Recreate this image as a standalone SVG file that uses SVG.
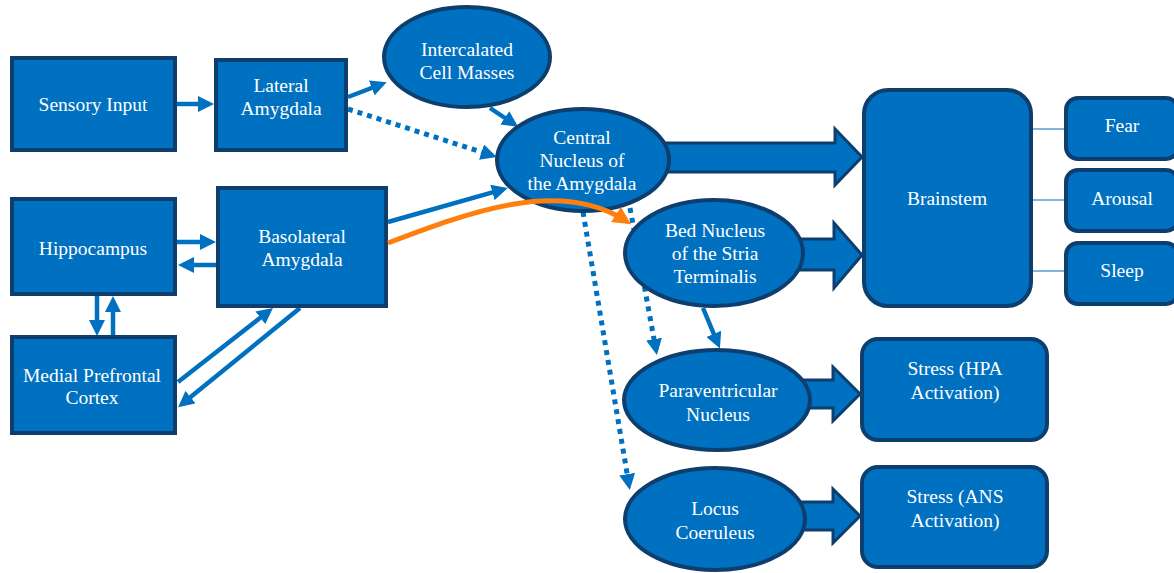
<svg xmlns="http://www.w3.org/2000/svg" width="1174" height="573" viewBox="0 0 1174 573">
<style>
.n{fill:#0070C0;stroke:#0E3E6E;stroke-width:4}
.t{font-family:"Liberation Serif","Times New Roman",serif;font-size:19.5px;fill:#fff;text-anchor:middle}
.a{fill:none;stroke:#0070C0;stroke-width:4.5;marker-end:url(#ah)}
.d{fill:none;stroke:#0070C0;stroke-width:5;stroke-dasharray:5 5;marker-end:url(#ah)}
.b{fill:#0070C0;stroke:#0E3E6E;stroke-width:3;stroke-linejoin:miter}
.l{stroke:#5B9BD5;stroke-width:1.5}
</style>
<defs>
<marker id="ah" markerUnits="userSpaceOnUse" markerWidth="16" markerHeight="16" viewBox="0 0 16 16" refX="11" refY="8" orient="auto">
<path d="M0,0 L16,8 L0,16 z" fill="#0070C0"/>
</marker>
<marker id="ao" markerUnits="userSpaceOnUse" markerWidth="18" markerHeight="18" viewBox="0 0 18 18" refX="12" refY="9" orient="auto">
<path d="M0,0 L18,9 L0,18 z" fill="#FF7F0E"/>
</marker>
</defs>
<rect width="1174" height="573" fill="#fff"/>
<g id="connectors">
<path class="b" d="M640,143 L835,143 L835,129 L862,157 L835,185 L835,172 L640,172 Z"/>
<path class="b" d="M780,239 L834,239 L834,223 L862,255 L834,288 L834,270 L780,270 Z"/>
<path class="b" d="M790,380 L833,380 L833,367 L860,394 L833,421 L833,408 L790,408 Z"/>
<path class="b" d="M780,502 L833,502 L833,489 L860,516 L833,543 L833,530 L780,530 Z"/>
<line class="a" x1="177" y1="104" x2="209" y2="104"/>
<line class="a" x1="177" y1="242" x2="211" y2="242"/>
<line class="a" x1="216" y1="265" x2="183" y2="265"/>
<line class="a" x1="97" y1="296" x2="97" y2="331"/>
<line class="a" x1="113" y1="336" x2="113" y2="301"/>
<line class="a" x1="178" y1="382" x2="269" y2="311"/>
<line class="a" x1="300" y1="308" x2="182" y2="404"/>
<line class="a" x1="348" y1="97" x2="382" y2="84"/>
<line class="d" x1="348" y1="109" x2="492" y2="155.5"/>
<line class="a" x1="490" y1="108" x2="514" y2="124"/>
<line class="a" x1="388" y1="222" x2="503" y2="189.4"/>
<line class="d" x1="630" y1="208" x2="656" y2="350"/>
<line class="d" x1="583" y1="212" x2="629" y2="485"/>
<line class="a" x1="703" y1="308" x2="718" y2="344"/>
<line class="l" x1="1033" y1="129" x2="1064" y2="129"/>
<line class="l" x1="1033" y1="200" x2="1064" y2="200"/>
<line class="l" x1="1033" y1="271" x2="1064" y2="271"/>
</g>
<g id="sensory-input"><rect class="n" x="12" y="58" width="163" height="92"/><text class="t" x="93" y="111">Sensory Input</text></g>
<g id="lateral-amygdala"><rect class="n" x="216" y="60" width="130" height="90"/><text class="t" x="281" y="92">Lateral</text><text class="t" x="281" y="115">Amygdala</text></g>
<g id="hippocampus"><rect class="n" x="12" y="199" width="163" height="95"/><text class="t" x="93" y="255">Hippocampus</text></g>
<g id="basolateral-amygdala"><rect class="n" x="218" y="188" width="168" height="118"/><text class="t" x="302" y="243">Basolateral</text><text class="t" x="302" y="266">Amygdala</text></g>
<g id="medial-prefrontal-cortex"><rect class="n" x="12" y="337" width="163" height="96"/><text class="t" x="92" y="382">Medial Prefrontal</text><text class="t" x="92" y="404">Cortex</text></g>
<g id="intercalated-cell-masses"><ellipse class="n" cx="467" cy="57" rx="83" ry="50"/><text class="t" x="467" y="56">Intercalated</text><text class="t" x="467" y="79">Cell Masses</text></g>
<g id="central-nucleus"><ellipse class="n" cx="583" cy="160" rx="86" ry="51"/><text class="t" x="582" y="144">Central</text><text class="t" x="582" y="167">Nucleus of</text><text class="t" x="582" y="190">the Amygdala</text></g>
<g id="bnst"><ellipse class="n" cx="714" cy="253" rx="89" ry="53"/><text class="t" x="715" y="237">Bed Nucleus</text><text class="t" x="715" y="260">of the Stria</text><text class="t" x="715" y="283">Terminalis</text></g>
<g id="paraventricular-nucleus"><ellipse class="n" cx="717" cy="400" rx="93" ry="50"/><text class="t" x="718" y="397">Paraventricular</text><text class="t" x="718" y="421">Nucleus</text></g>
<g id="locus-coeruleus"><ellipse class="n" cx="715" cy="519" rx="90" ry="51"/><text class="t" x="715" y="515">Locus</text><text class="t" x="715" y="539">Coeruleus</text></g>
<g id="brainstem"><rect class="n" x="864" y="90" width="167" height="216" rx="24"/><text class="t" x="947" y="205">Brainstem</text></g>
<g id="fear"><rect class="n" x="1066" y="98" width="112" height="61" rx="12"/><text class="t" x="1122" y="132">Fear</text></g>
<g id="arousal"><rect class="n" x="1066" y="170" width="112" height="61" rx="12"/><text class="t" x="1122" y="205">Arousal</text></g>
<g id="sleep"><rect class="n" x="1066" y="243" width="112" height="61" rx="12"/><text class="t" x="1122" y="277">Sleep</text></g>
<g id="stress-hpa"><rect class="n" x="862" y="339" width="185" height="101" rx="16"/><text class="t" x="955" y="375">Stress (HPA</text><text class="t" x="955" y="399">Activation)</text></g>
<g id="stress-ans"><rect class="n" x="862" y="467" width="185" height="100" rx="16"/><text class="t" x="955" y="503">Stress (ANS</text><text class="t" x="955" y="527">Activation)</text></g>
<g id="connector-orange">
<path d="M388,243 C470,212 560,178 626,221" fill="none" stroke="#FF7F0E" stroke-width="5" marker-end="url(#ao)"/>
</g>
</svg>
